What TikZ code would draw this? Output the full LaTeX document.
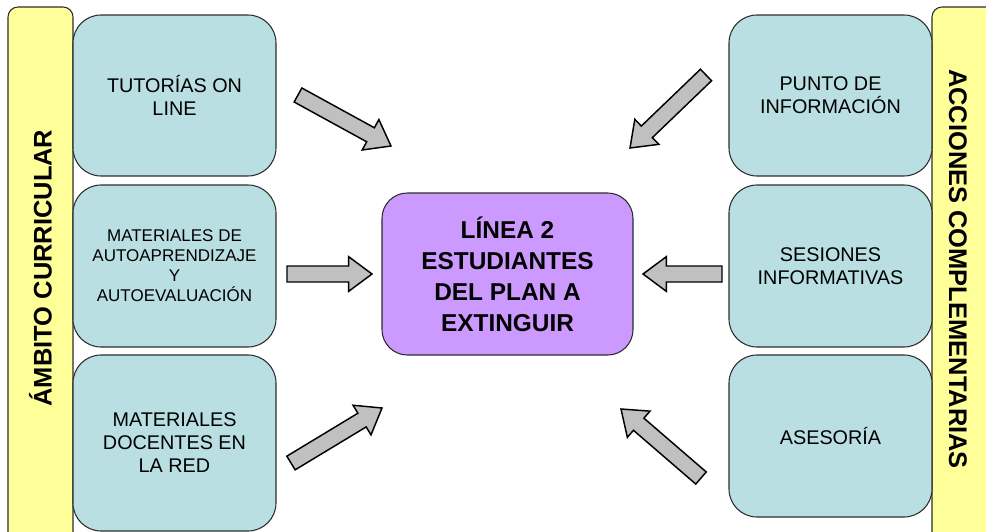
\documentclass[tikz,border=0pt]{standalone}
\usepackage{fontspec}
\setmainfont{Liberation Sans}
\usetikzlibrary{calc}
\definecolor{boxblue}{RGB}{185,223,227}
\definecolor{baryellow}{RGB}{255,255,153}
\definecolor{centerpurple}{RGB}{204,153,255}
\definecolor{arrowgray}{RGB}{192,192,192}
\definecolor{edgegray}{RGB}{45,45,45}
\newcommand\blockarr[2]{%
  \coordinate (ab) at ($(#2)!17.5pt!(#1)$);
  \draw[blockarrow] ($(#1)!6pt!90:(#2)$) -- ($(ab)!6pt!-90:(#1)$) -- ($(ab)!13pt!-90:(#1)$) -- (#2)
    -- ($(ab)!13pt!90:(#1)$) -- ($(ab)!6pt!90:(#1)$) -- ($(#1)!6pt!-90:(#2)$) -- cycle;}
\begin{document}
\begin{tikzpicture}[x=0.75pt,y=-0.75pt,
  sidebox/.style={draw=edgegray, line width=0.8pt, fill=boxblue, rounded corners=21pt,
    inner sep=0pt, align=center, minimum width=152.25pt, font=\fontsize{14.85}{17.25}\selectfont},
  centerbox/.style={draw=edgegray, line width=0.8pt, fill=centerpurple, rounded corners=19pt,
    inner sep=0pt, align=center, minimum width=188.25pt, minimum height=121.5pt,
    font=\bfseries\fontsize{18.3}{23.25}\selectfont},
  sidebar/.style={draw=edgegray, line width=0.8pt, fill=baryellow, rounded corners=7.5pt},
  bartext/.style={inner sep=0pt, font=\bfseries\fontsize{19.1}{22}\selectfont},
  blockarrow/.style={draw=black, line width=1.1pt, fill=arrowgray, line join=miter}]
\useasboundingbox (0,0) rectangle (986,532);
% side bars
\path[sidebar] (8,7) rectangle (73,548);
\path[sidebar] (932,7) rectangle (1005,548);
\node[bartext, rotate=90] (lbar) at (40.5,268) {ÁMBITO CURRICULAR};
\node[bartext, rotate=-90] (rbar) at (958,269) {ACCIONES COMPLEMENTARIAS};
% left column
\node[sidebox, minimum height=120.75pt] (l1) at (174.5,95.5) {TUTORÍAS ON\\LINE};
\node[sidebox, minimum height=121.5pt, font=\fontsize{12.75}{15}\selectfont] (l2) at (174.5,266) {MATERIALES DE\\AUTOAPRENDIZAJE\\Y\\AUTOEVALUACIÓN};
\node[sidebox, minimum height=132pt] (l3) at (174.5,443) {MATERIALES\\DOCENTES EN\\LA RED};
% right column
\node[sidebox, minimum height=120.75pt] (r1) at (830.5,95.5) {PUNTO DE\\INFORMACIÓN};
\node[sidebox, minimum height=121.5pt] (r2) at (830.5,266) {SESIONES\\INFORMATIVAS};
\node[sidebox, minimum height=121.5pt] (r3) at (830.5,436) {ASESORÍA};
% center
\node[centerbox] (c) at (507.5,274) {LÍNEA 2\\ESTUDIANTES\\DEL PLAN A\\EXTINGUIR};
% arrow ends
\coordinate (a1t) at (298,95);  \coordinate (a1h) at (391,146);
\coordinate (a2t) at (287,274); \coordinate (a2h) at (372,274);
\coordinate (a3t) at (291,463); \coordinate (a3h) at (382,408);
\coordinate (a4t) at (706,75);  \coordinate (a4h) at (630,148);
\coordinate (a5t) at (722,274); \coordinate (a5h) at (643,274);
\coordinate (a6t) at (701,478); \coordinate (a6h) at (621,409);
\blockarr{a1t}{a1h}
\blockarr{a2t}{a2h}
\blockarr{a3t}{a3h}
\blockarr{a4t}{a4h}
\blockarr{a5t}{a5h}
\blockarr{a6t}{a6h}
\end{tikzpicture}
\end{document}
